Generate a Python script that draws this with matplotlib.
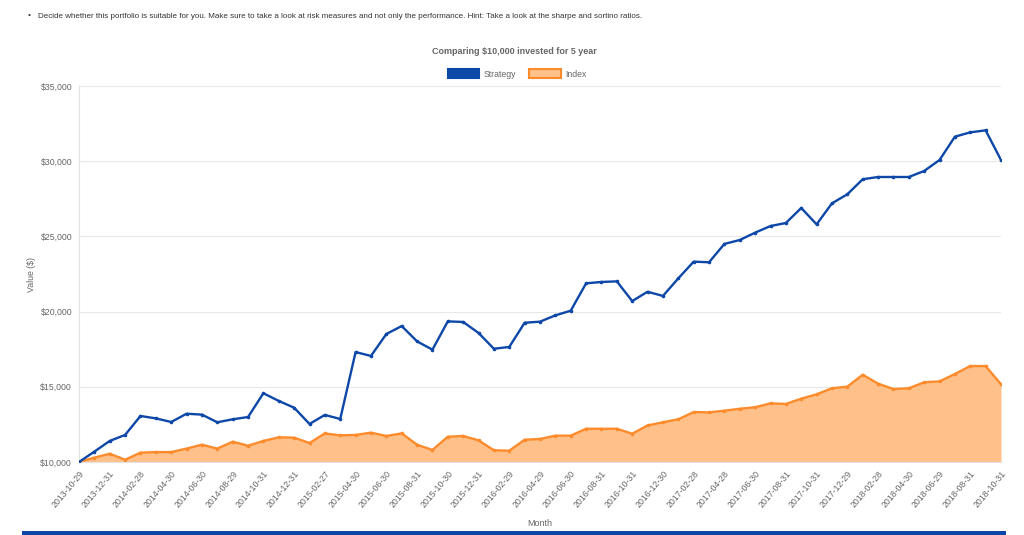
import matplotlib.pyplot as plt
from matplotlib.patches import Patch, Rectangle
from matplotlib.ticker import FuncFormatter
import numpy as np

plt.rcParams['font.family'] = ['Liberation Sans', 'DejaVu Sans']

# monthly values, 2013-10-29 .. 2018-10-31
strategy = [10000, 10690, 11400, 11800, 13060, 12900, 12660, 13210, 13150, 12640,
            12840, 12990, 14570, 14060, 13610, 12530, 13130, 12860, 17310, 17050,
            18510, 19040, 18020, 17470, 19350, 19310, 18580, 17530, 17650, 19260,
            19330, 19750, 20060, 21880, 21970, 22010, 20700, 21320, 21040, 22210,
            23320, 23280, 24500, 24760, 25250, 25690, 25890, 26890, 25800, 27200,
            27800, 28800, 28950, 28950, 28950, 29350, 30080, 31630, 31920, 32050,
            30080]
index = [10000, 10290, 10550, 10150, 10620, 10660, 10660, 10890, 11150, 10890,
         11350, 11080, 11400, 11640, 11620, 11260, 11900, 11770, 11800, 11950,
         11730, 11900, 11150, 10800, 11680, 11730, 11440, 10780, 10750, 11480,
         11530, 11750, 11750, 12210, 12210, 12210, 11880, 12430, 12640, 12840,
         13320, 13300, 13410, 13540, 13640, 13900, 13860, 14210, 14500, 14900,
         15010, 15800, 15210, 14850, 14900, 15300, 15360, 15850, 16380, 16380,
         15170]
tick_labels = ['2013-10-29', '2013-12-31', '2014-02-28', '2014-04-30', '2014-06-30',
               '2014-08-29', '2014-10-31', '2014-12-31', '2015-02-27', '2015-04-30',
               '2015-06-30', '2015-08-31', '2015-10-30', '2015-12-31', '2016-02-29',
               '2016-04-29', '2016-06-30', '2016-08-31', '2016-10-31', '2016-12-30',
               '2017-02-28', '2017-04-28', '2017-06-30', '2017-08-31', '2017-10-31',
               '2017-12-29', '2018-02-28', '2018-04-30', '2018-06-29', '2018-08-31',
               '2018-10-31']

blue = '#0d47a8'
orange = '#fd8b2b'
fill = '#ffc08a'
grey = '#666666'

fig = plt.figure(figsize=(10.24, 5.35), dpi=100)
ax = fig.add_axes([79/1024, 1-462/535, 922/1024, 376/535])

x = np.arange(len(strategy))
ax.fill_between(x, 10000, index, color=fill, lw=0, zorder=1)
ax.plot(x, index, color=orange, lw=1.7, marker='o', ms=1.6, zorder=2)
ax.plot(x, strategy, color=blue, lw=1.7, marker='o', ms=1.6, zorder=3)

ax.set_xlim(0, len(strategy) - 1)
ax.set_ylim(10000, 35000)
ax.set_yticks(np.arange(10000, 35001, 5000))
ax.yaxis.set_major_formatter(FuncFormatter(lambda v, p: '${:,.0f}'.format(v)))
ax.set_xticks(x[::2])
ax.set_xticklabels(tick_labels, rotation=50, ha='right', rotation_mode='anchor')
ax.tick_params(length=0, labelsize=6.3, colors=grey, pad=5)
ax.grid(axis='y', color='#e8e8e8', lw=0.8)
ax.set_axisbelow(True)
for s in ['top', 'right']:
    ax.spines[s].set_visible(False)
for s in ['left', 'bottom']:
    ax.spines[s].set_color('#e3e3e3')
    ax.spines[s].set_linewidth(0.8)

ax.set_ylabel('Value ($)', fontsize=6.3, color=grey)
ax.yaxis.set_label_coords(-0.047, 0.5)
fig.text(540/1024, 1-523/535, 'Month', fontsize=6.5, color=grey, ha='center', va='center')

fig.text(514/1024, 1-51/535, 'Comparing $10,000 invested for 5 year', fontsize=6.5,
         color=grey, fontweight='bold', ha='center', va='center')
fig.text(28/1024, 1-16/535, '\u2022', fontsize=6, color='#333333', va='center')
fig.text(38/1024, 1-16/535, 'Decide whether this portfolio is suitable for you. Make sure to take a look at '
         'risk measures and not only the performance. Hint: Take a look at the sharpe and sortino ratios.',
         fontsize=5.8, color='#333333', va='center')

handles = [Patch(facecolor=blue, edgecolor=blue, lw=1.5, label='Strategy'),
           Patch(facecolor=fill, edgecolor=orange, lw=1.5, label='Index')]
leg = fig.legend(handles=handles, loc='center', bbox_to_anchor=(517/1024, 1-74/535), ncol=2,
                 frameon=False, fontsize=6.3, handlelength=3.6, handleheight=1.1,
                 handletextpad=0.5, columnspacing=1.5)
for t in leg.get_texts():
    t.set_color(grey)

fig.add_artist(Rectangle((22/1024, 0), 984/1024, 4/535, transform=fig.transFigure,
                         color='#0b47a8', lw=0))

fig.savefig('out.png', dpi=100)
